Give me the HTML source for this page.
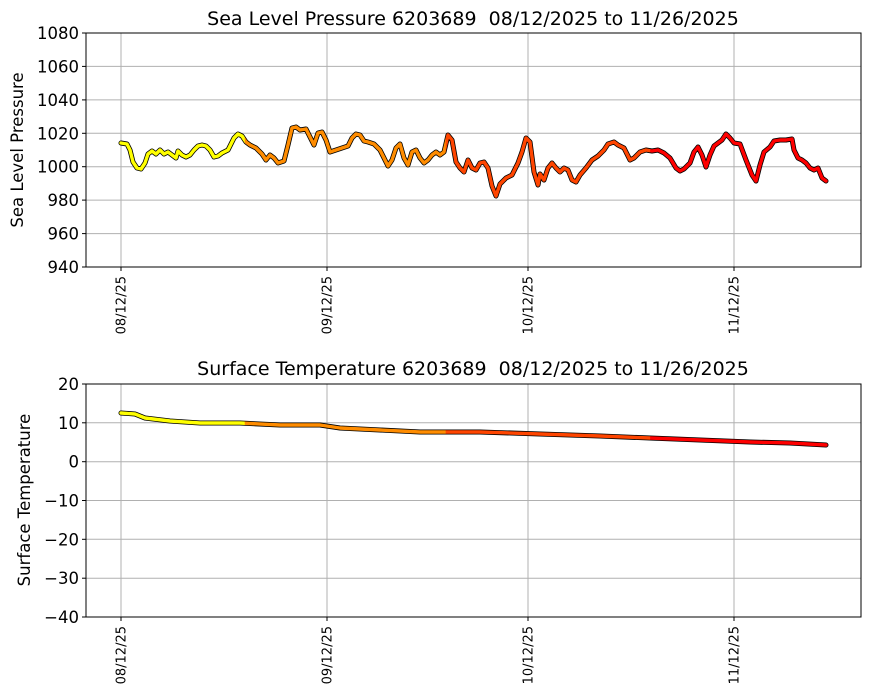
<!DOCTYPE html>
<html><head><meta charset="utf-8"><style>body{margin:0;background:#fff}svg{display:block;font-family:"DejaVu Sans","Liberation Sans",sans-serif}</style></head><body>
<svg width="870" height="700" viewBox="0 0 870 700">
<defs>
<linearGradient id="g" gradientUnits="userSpaceOnUse" x1="121" y1="0" x2="826" y2="0">
<stop offset="0" stop-color="#ffff00"/><stop offset="0.175" stop-color="#ffff00"/><stop offset="0.176" stop-color="#ff8c00"/><stop offset="0.46" stop-color="#ff8c00"/><stop offset="0.461" stop-color="#ff4500"/><stop offset="0.75" stop-color="#ff4500"/><stop offset="0.751" stop-color="#ff0000"/><stop offset="1" stop-color="#ff0000"/>
</linearGradient>
</defs>
<g stroke="#b0b0b0" stroke-width="1">
<line x1="121" y1="33" x2="121" y2="267"/><line x1="327" y1="33" x2="327" y2="267"/><line x1="528" y1="33" x2="528" y2="267"/><line x1="734" y1="33" x2="734" y2="267"/>
<line x1="86" y1="66.4" x2="861" y2="66.4"/><line x1="86" y1="99.9" x2="861" y2="99.9"/><line x1="86" y1="133.3" x2="861" y2="133.3"/><line x1="86" y1="166.7" x2="861" y2="166.7"/><line x1="86" y1="200.1" x2="861" y2="200.1"/><line x1="86" y1="233.6" x2="861" y2="233.6"/>
<line x1="121" y1="384" x2="121" y2="617"/><line x1="327" y1="384" x2="327" y2="617"/><line x1="528" y1="384" x2="528" y2="617"/><line x1="734" y1="384" x2="734" y2="617"/>
<line x1="86" y1="422.8" x2="861" y2="422.8"/><line x1="86" y1="461.7" x2="861" y2="461.7"/><line x1="86" y1="500.5" x2="861" y2="500.5"/><line x1="86" y1="539.3" x2="861" y2="539.3"/><line x1="86" y1="578.2" x2="861" y2="578.2"/>
</g>
<g fill="none" stroke-linejoin="round" stroke-linecap="round">
<polyline stroke="#000" stroke-width="5" points="121,143 127,144 130,150 133,162 137,168 141,169 145,163 148,154 152,151 156,154 160,150 164,154 168,152 172,155 176,158 178,151 182,155 186,157 190,155 194,150 198,146 202,145 206,146 210,150 214,157 218,156 222,153 228,150 234,138 238,134 242,136 246,142 250,145 256,148 262,154 266,160 270,155 274,158 278,163 284,161 288,145 292,128 296,127 300,130 306,129 310,137 314,145 318,133 322,132 326,140 330,152 336,150 342,148 348,146 352,138 356,134 360,135 364,141 368,142 374,144 380,150 384,158 388,166 392,160 396,148 400,144 404,158 408,165 412,152 416,150 420,158 424,163 428,160 432,155 436,152 440,155 444,152 448,135 452,140 456,162 460,168 464,172 468,160 472,168 476,170 480,163 484,162 488,168 492,186 496,196 500,184 506,178 512,175 518,163 522,152 526,138 530,142 534,172 538,185 540,174 544,180 548,168 552,163 556,168 560,172 564,168 568,170 572,180 576,182 580,175 586,168 592,160 598,156 604,150 608,144 614,142 618,145 624,148 630,160 634,158 640,152 646,150 652,151 658,150 664,153 670,158 676,168 680,171 684,169 690,163 694,152 698,147 702,155 706,167 710,155 714,146 718,143 722,140 726,134 730,138 734,143 740,144 746,160 752,175 756,181 760,165 764,152 770,147 774,141 780,140 786,140 792,139 794,150 798,158 802,160 806,163 810,168 814,170 818,168 822,178 826,181"/>
<polyline stroke="url(#g)" stroke-width="3.4" points="121,143 127,144 130,150 133,162 137,168 141,169 145,163 148,154 152,151 156,154 160,150 164,154 168,152 172,155 176,158 178,151 182,155 186,157 190,155 194,150 198,146 202,145 206,146 210,150 214,157 218,156 222,153 228,150 234,138 238,134 242,136 246,142 250,145 256,148 262,154 266,160 270,155 274,158 278,163 284,161 288,145 292,128 296,127 300,130 306,129 310,137 314,145 318,133 322,132 326,140 330,152 336,150 342,148 348,146 352,138 356,134 360,135 364,141 368,142 374,144 380,150 384,158 388,166 392,160 396,148 400,144 404,158 408,165 412,152 416,150 420,158 424,163 428,160 432,155 436,152 440,155 444,152 448,135 452,140 456,162 460,168 464,172 468,160 472,168 476,170 480,163 484,162 488,168 492,186 496,196 500,184 506,178 512,175 518,163 522,152 526,138 530,142 534,172 538,185 540,174 544,180 548,168 552,163 556,168 560,172 564,168 568,170 572,180 576,182 580,175 586,168 592,160 598,156 604,150 608,144 614,142 618,145 624,148 630,160 634,158 640,152 646,150 652,151 658,150 664,153 670,158 676,168 680,171 684,169 690,163 694,152 698,147 702,155 706,167 710,155 714,146 718,143 722,140 726,134 730,138 734,143 740,144 746,160 752,175 756,181 760,165 764,152 770,147 774,141 780,140 786,140 792,139 794,150 798,158 802,160 806,163 810,168 814,170 818,168 822,178 826,181"/>
<polyline stroke="#000" stroke-width="5" points="121,413 135,414 145,418 170,421 200,423 240,423 280,425 320,425 340,428 380,430 420,432 480,432 540,434 600,436 650,438 700,440 750,442 790,443 826,445"/>
<polyline stroke="url(#g)" stroke-width="3.4" points="121,413 135,414 145,418 170,421 200,423 240,423 280,425 320,425 340,428 380,430 420,432 480,432 540,434 600,436 650,438 700,440 750,442 790,443 826,445"/>
</g>
<g fill="none" stroke="#000" stroke-width="1">
<rect x="86" y="33" width="775" height="234"/><rect x="86" y="384" width="775" height="233"/>
</g>
<g stroke="#000">
<line x1="121" y1="267" x2="121" y2="271"/><line x1="327" y1="267" x2="327" y2="271"/><line x1="528" y1="267" x2="528" y2="271"/><line x1="734" y1="267" x2="734" y2="271"/>
<line x1="121" y1="617" x2="121" y2="621"/><line x1="327" y1="617" x2="327" y2="621"/><line x1="528" y1="617" x2="528" y2="621"/><line x1="734" y1="617" x2="734" y2="621"/>
<line x1="82" y1="33" x2="86" y2="33"/><line x1="82" y1="66.4" x2="86" y2="66.4"/><line x1="82" y1="99.9" x2="86" y2="99.9"/><line x1="82" y1="133.3" x2="86" y2="133.3"/><line x1="82" y1="166.7" x2="86" y2="166.7"/><line x1="82" y1="200.1" x2="86" y2="200.1"/><line x1="82" y1="233.6" x2="86" y2="233.6"/><line x1="82" y1="267" x2="86" y2="267"/>
<line x1="82" y1="384" x2="86" y2="384"/><line x1="82" y1="422.8" x2="86" y2="422.8"/><line x1="82" y1="461.7" x2="86" y2="461.7"/><line x1="82" y1="500.5" x2="86" y2="500.5"/><line x1="82" y1="539.3" x2="86" y2="539.3"/><line x1="82" y1="578.2" x2="86" y2="578.2"/><line x1="82" y1="617" x2="86" y2="617"/>
</g>
<g font-size="19" text-anchor="middle" fill="#000">
<text x="473" y="25">Sea Level Pressure 6203689&#160; 08/12/2025 to 11/26/2025</text>
<text x="473" y="375">Surface Temperature 6203689&#160; 08/12/2025 to 11/26/2025</text>
</g>
<g font-size="16.5" text-anchor="middle">
<text transform="translate(23,150) rotate(-90)">Sea Level Pressure</text>
<text transform="translate(30,500) rotate(-90)">Surface Temperature</text>
</g>
<g font-size="16.5" text-anchor="end">
<text x="79" y="39">1080</text><text x="79" y="72.4">1060</text><text x="79" y="105.9">1040</text><text x="79" y="139.3">1020</text><text x="79" y="172.7">1000</text><text x="79" y="206.1">980</text><text x="79" y="239.6">960</text><text x="79" y="273">940</text>
<text x="79" y="390">20</text><text x="79" y="428.8">10</text><text x="79" y="467.7">0</text><text x="79" y="506.5">−10</text><text x="79" y="545.3">−20</text><text x="79" y="584.2">−30</text><text x="79" y="623">−40</text>
</g>
<g font-size="13" text-anchor="end">
<text transform="translate(125.5,276) rotate(-90)">08/12/25</text><text transform="translate(331.5,276) rotate(-90)">09/12/25</text><text transform="translate(532.5,276) rotate(-90)">10/12/25</text><text transform="translate(738.5,276) rotate(-90)">11/12/25</text>
<text transform="translate(125.5,626) rotate(-90)">08/12/25</text><text transform="translate(331.5,626) rotate(-90)">09/12/25</text><text transform="translate(532.5,626) rotate(-90)">10/12/25</text><text transform="translate(738.5,626) rotate(-90)">11/12/25</text>
</g>
</svg>
</body></html>
